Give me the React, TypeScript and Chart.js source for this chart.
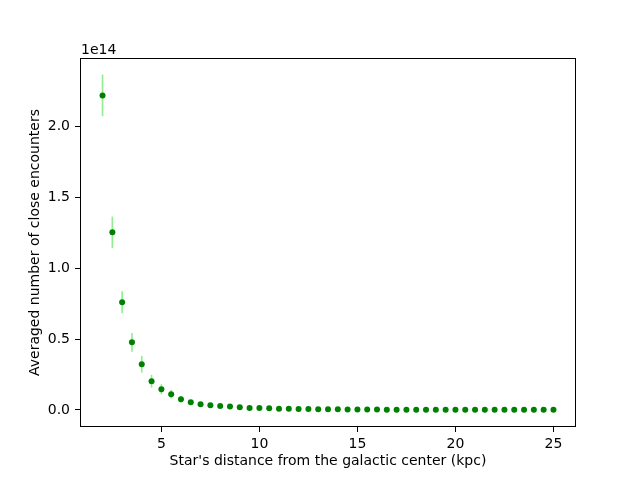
import React, { useEffect, useRef } from "react";
import { Chart, registerables } from "chart.js";

Chart.register(...registerables);

// distance from galactic center (kpc)
const distances = [
  2, 2.5, 3, 3.5, 4, 4.5, 5, 5.5, 6, 6.5, 7, 7.5, 8, 8.5, 9, 9.5, 10, 10.5, 11, 11.5,
  12, 12.5, 13, 13.5, 14, 14.5, 15, 15.5, 16, 16.5, 17, 17.5, 18, 18.5, 19, 19.5,
  20, 20.5, 21, 21.5, 22, 22.5, 23, 23.5, 24, 24.5, 25,
];
// averaged number of close encounters (units of 1e14)
const encounters = [
  2.22, 1.253, 0.76, 0.477, 0.322, 0.202, 0.146, 0.111, 0.075, 0.054, 0.04, 0.033, 0.027,
  0.024, 0.019, 0.014, 0.013, 0.012, 0.008, 0.007, 0.006, 0.006, 0.005, 0.005, 0.004,
  0.002, 0.002, 0.002, 0.002, 0.0015, 0.0015, 0.0015, 0.0012, 0.0012, 0.0012, 0.001,
  0.001, 0.001, 0.001, 0.0008, 0.0008, 0.0008, 0.0008, 0.0007, 0.0007, 0.0007, 0.0006,
];
// error (units of 1e14)
const errors = [
  0.145, 0.109, 0.075, 0.064, 0.057, 0.043, 0.033, 0.028, 0.02, 0.014, 0.01, 0.008, 0.006,
  0.005, 0.004, 0.003, 0.003, 0.003, 0.002, 0.002, 0.0015, 0.0015, 0.0012, 0.0012, 0.001,
  0.0006, 0.0006, 0.0006, 0.0005, 0.0004, 0.0004, 0.0004, 0.0003, 0.0003, 0.0003, 0.0003,
  0.0003, 0.0003, 0.0003, 0.0002, 0.0002, 0.0002, 0.0002, 0.0002, 0.0002, 0.0002, 0.0002,
];
const xTicks = [5, 10, 15, 20, 25];
const yTicks = [0, 0.5, 1.0, 1.5, 2.0];
const offsetLabel = "1e14";

const FONT = "'DejaVu Sans', sans-serif";

export default function App() {
  const ref = useRef<HTMLCanvasElement>(null);

  useEffect(() => {
    if (!ref.current) return;
    const framePlugin = {
      id: "frame",
      afterDatasetsDraw(chart: any) {
        const { ctx, chartArea } = chart;
        ctx.save();
        ctx.strokeStyle = "#000";
        ctx.lineWidth = 1;
        ctx.strokeRect(
          Math.round(chartArea.left) + 0.5,
          Math.round(chartArea.top) + 0.5,
          Math.round(chartArea.right - chartArea.left) - 1,
          Math.round(chartArea.bottom - chartArea.top) - 1
        );
        ctx.fillStyle = "#000";
        ctx.font = `14px ${FONT}`;
        ctx.textAlign = "left";
        ctx.textBaseline = "alphabetic";
        ctx.fillText(offsetLabel, chartArea.left + 1, chartArea.top - 4);
        ctx.restore();
      },
    };

    const chart = new Chart(ref.current, {
      type: "scatter",
      data: {
        datasets: [
          {
            type: "bar",
            data: distances.map((x, i) => ({
              x,
              y: [encounters[i] - errors[i], encounters[i] + errors[i]],
            })) as any,
            backgroundColor: "#90ee90",
            borderWidth: 0,
            barThickness: 1,
            order: 2,
          } as any,
          {
            type: "scatter",
            data: distances.map((x, i) => ({ x, y: encounters[i] })),
            backgroundColor: "#008000",
            borderColor: "#008000",
            pointRadius: 3,
            borderWidth: 0,
            order: 1,
          },
        ],
      },
      options: {
        animation: false,
        responsive: false,
        layout: { padding: { left: 0, right: 64, top: 58, bottom: 0 } },
        plugins: { legend: { display: false }, tooltip: { enabled: false } },
        scales: {
          x: {
            type: "linear",
            offset: false,
            min: 0.85,
            max: 26.15,
            afterBuildTicks: (axis: any) => {
              axis.ticks = xTicks.map((v) => ({ value: v }));
            },
            afterFit: (axis: any) => {
              axis.height = 53;
            },
            grid: {
              offset: false,
              drawOnChartArea: false,
              drawTicks: true,
              tickLength: 5,
              color: "#000",
            },
            border: { display: false },
            ticks: {
              color: "#000",
              padding: 4,
              font: { family: FONT, size: 14 },
              callback: (v: any) => String(v),
              maxRotation: 0,
            },
            title: {
              display: true,
              text: "Star's distance from the galactic center (kpc)",
              color: "#000",
              font: { family: FONT, size: 14 },
              padding: { top: 0, bottom: 10 },
            },
          },
          y: {
            type: "linear",
            min: -0.121,
            max: 2.484,
            afterBuildTicks: (axis: any) => {
              axis.ticks = yTicks.map((v) => ({ value: v }));
            },
            afterFit: (axis: any) => {
              axis.width = 80;
            },
            grid: {
              offset: false,
              drawOnChartArea: false,
              drawTicks: true,
              tickLength: 5,
              color: "#000",
            },
            border: { display: false },
            ticks: {
              color: "#000",
              padding: 5,
              font: { family: FONT, size: 14 },
              callback: (v: any) => Number(v).toFixed(1),
            },
            title: {
              display: true,
              text: "Averaged number of close encounters",
              color: "#000",
              font: { family: FONT, size: 14 },
              padding: { top: 27, bottom: 0 },
            },
          },
        },
      },
      plugins: [framePlugin],
    });
    return () => chart.destroy();
  }, []);

  return (
    <div style={{ position: "fixed", left: 0, top: 0, width: 640, height: 480, background: "#fff" }}>
      <canvas ref={ref} width={640} height={480} style={{ width: 640, height: 480 }} />
    </div>
  );
}
